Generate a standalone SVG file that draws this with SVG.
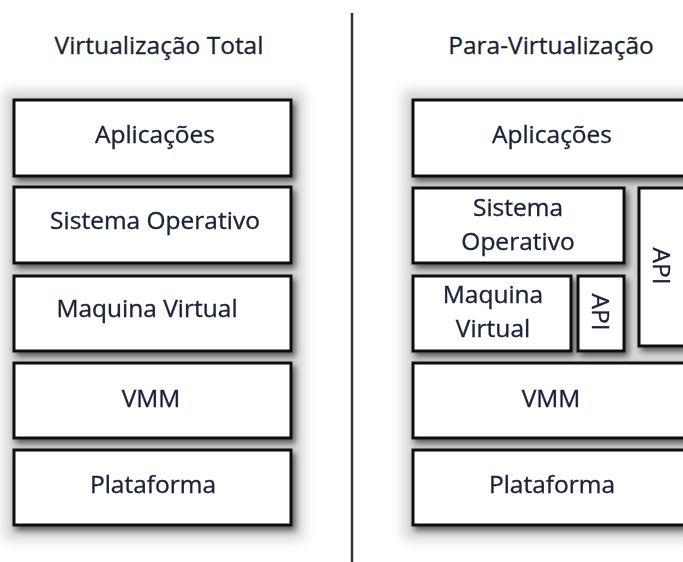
<svg xmlns="http://www.w3.org/2000/svg" width="683" height="562" viewBox="0 0 683 562">
<defs>
<filter id="sh" x="-20%" y="-30%" width="140%" height="160%">
<feGaussianBlur in="SourceAlpha" stdDeviation="3"/>
<feOffset dx="3" dy="4" result="b"/>
<feComponentTransfer><feFuncA type="linear" slope="0.6"/></feComponentTransfer>
<feMerge><feMergeNode/><feMergeNode in="SourceGraphic"/></feMerge>
</filter>
<filter id="halo" x="-10%" y="-10%" width="120%" height="120%">
<feGaussianBlur stdDeviation="6"/>
</filter>
</defs>
<style>
.box{fill:#ffffff;stroke:#111111;stroke-width:3}
.t{font-family:"Open Sans","Liberation Sans",sans-serif;font-size:24.5px;fill:#1a2138;stroke:#1a2138;stroke-width:0.35;text-anchor:middle}
.title{font-family:"Open Sans","Liberation Sans",sans-serif;font-size:24.5px;fill:#1a1f30;stroke:#1a1f30;stroke-width:0.3;text-anchor:middle}
.halo{fill:#d6d6d6}
</style>
<rect width="683" height="562" fill="#ffffff"/>
<rect class="halo" x="4" y="90" width="300" height="450" filter="url(#halo)"/>
<rect class="halo" x="403" y="90" width="290" height="450" filter="url(#halo)"/>
<text class="title" x="159" y="54">Virtualização Total</text>
<text class="title" x="551" y="54">Para-Virtualização</text>
<g id="connectors">
<line x1="352" y1="13" x2="352" y2="562" stroke="#333333" stroke-width="2.5"/>
</g>
<g id="l-aplicacoes" filter="url(#sh)"><rect class="box" x="14" y="100" width="277" height="76"/><text class="t" x="155" y="143">Aplicações</text></g>
<g id="l-so" filter="url(#sh)"><rect class="box" x="14" y="187" width="277" height="76"/><text class="t" x="155" y="229">Sistema Operativo</text></g>
<g id="l-mv" filter="url(#sh)"><rect class="box" x="14" y="276" width="277" height="75"/><text class="t" x="147" y="317">Maquina Virtual</text></g>
<g id="l-vmm" filter="url(#sh)"><rect class="box" x="14" y="363" width="277" height="75"/><text class="t" x="151" y="407">VMM</text></g>
<g id="l-plat" filter="url(#sh)"><rect class="box" x="14" y="450" width="277" height="75"/><text class="t" x="153" y="493">Plataforma</text></g>
<g id="r-aplicacoes" filter="url(#sh)"><rect class="box" x="413" y="100" width="285" height="76"/><text class="t" x="552" y="143">Aplicações</text></g>
<g id="r-so" filter="url(#sh)"><rect class="box" x="413" y="188" width="211" height="75"/><text class="t" x="518" y="216">Sistema</text><text class="t" x="518" y="250">Operativo</text></g>
<g id="r-api-tall" filter="url(#sh)"><rect class="box" x="639" y="188" width="55" height="158"/><text class="t" transform="translate(653,266) rotate(90)" x="0" y="0">API</text></g>
<g id="r-mv" filter="url(#sh)"><rect class="box" x="413" y="276" width="158" height="75"/><text class="t" x="493" y="303">Maquina</text><text class="t" x="493" y="337">Virtual</text></g>
<g id="r-api-small" filter="url(#sh)"><rect class="box" x="578" y="276" width="46" height="75"/><text class="t" transform="translate(592,312) rotate(90)" x="0" y="0">API</text></g>
<g id="r-vmm" filter="url(#sh)"><rect class="box" x="413" y="363" width="285" height="75"/><text class="t" x="551" y="407">VMM</text></g>
<g id="r-plat" filter="url(#sh)"><rect class="box" x="413" y="450" width="285" height="75"/><text class="t" x="552" y="493">Plataforma</text></g>
</svg>
